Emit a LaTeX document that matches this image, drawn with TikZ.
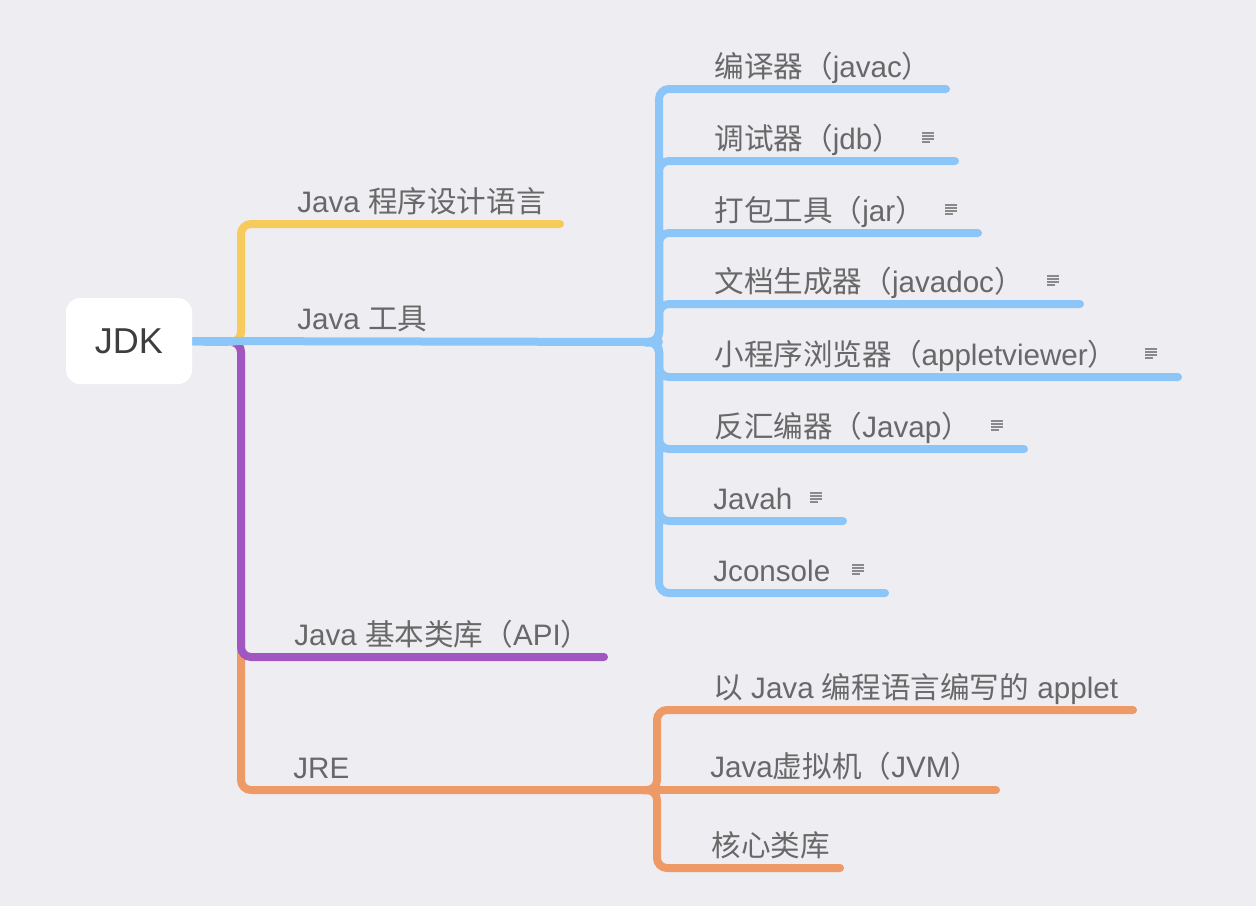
\documentclass[tikz,border=0pt]{standalone}
\usepackage{fontspec}
\setmainfont{Liberation Sans}
\newfontfamily\cjk{Noto Sans CJK SC}
\newcommand\zh[1]{{\cjk #1}}
\usetikzlibrary{positioning,backgrounds}

\definecolor{bgcol}{HTML}{EEEDF2}
\definecolor{textgray}{HTML}{686868}
\definecolor{rootgray}{HTML}{3E3E3E}
\definecolor{bluec}{HTML}{8CC6F9}
\definecolor{yellowc}{HTML}{F6CB5B}
\definecolor{purplec}{HTML}{A057C0}
\definecolor{orangec}{HTML}{EE9A67}
\definecolor{notec}{HTML}{8A8A8A}

\begin{document}
\begin{tikzpicture}[x=0.5pt, y=-0.5pt,
    every node/.style = {inner sep=0pt, text=textgray, font=\fontsize{14.8}{17}\selectfont},
    rootbox/.style = {fill=white, rounded corners=7pt, minimum width=63pt, minimum height=43pt,
      text=rootgray, font=\fontsize{18}{21}\selectfont},
    leaf/.style = {anchor=base west},
    branch/.style = {line width=4pt, line cap=round, rounded corners=5pt},
    noteicon/.pic = {\draw[notec, line width=0.7pt]
      (0,0) -- (12,0) (0,3) -- (12,3) (0,6) -- (12,6) (0,9) -- (8,9);}]
  \useasboundingbox (0,0) rectangle (1256,906);

  \node[rootbox] (jdk) at (129,341) {JDK};

  \node[leaf] (lang) at (297,212) {Java \zh{程序设计语言}};
  \node[leaf] (tools) at (297,329) {Java \zh{工具}};
  \node[leaf] (api) at (294,645) {Java \zh{基本类库（}API\zh{）}};
  \node[leaf] (jre) at (293,778) {JRE};

  \node[leaf] (javac) at (714,77) {\zh{编译器（}javac\zh{）}};
  \node[leaf] (jdb) at (714,149) {\zh{调试器（}jdb\zh{）}};
  \node[leaf] (jar) at (714,221) {\zh{打包工具（}jar\zh{）}};
  \node[leaf] (javadoc) at (714,292) {\zh{文档生成器（}javadoc\zh{）}};
  \node[leaf] (viewer) at (714,365) {\zh{小程序浏览器（}appletviewer\zh{）}};
  \node[leaf] (javap) at (714,437) {\zh{反汇编器（}Javap\zh{）}};
  \node[leaf] (javah) at (713,509) {Javah};
  \node[leaf] (jconsole) at (713,581) {Jconsole};

  \node[leaf] (applet) at (713,698) {\zh{以} Java \zh{编程语言编写的} applet};
  \node[leaf] (jvm) at (710,777) {Java\zh{虚拟机（}JVM\zh{）}};
  \node[leaf] (corelib) at (711,856) {\zh{核心类库}};

  \coordinate (trunk) at (241,342);
  \coordinate (lang-end) at (560,224);
  \coordinate (api-end) at (604,657);
  \coordinate (tools-in) at (645,342);
  \coordinate (toolsfork) at (659,342);
  \coordinate (jre-in) at (643,790);
  \coordinate (jrefork) at (657,790);

  \coordinate (javac-end) at (946,89);
  \coordinate (jdb-end) at (955,161);
  \coordinate (jar-end) at (978,233);
  \coordinate (javadoc-end) at (1080,304);
  \coordinate (viewer-end) at (1178,377);
  \coordinate (javap-end) at (1024,449);
  \coordinate (javah-end) at (843,521);
  \coordinate (jconsole-end) at (885,593);

  \coordinate (applet-end) at (1133,710);
  \coordinate (jvm-end) at (996,790);
  \coordinate (corelib-end) at (840,868);

  \begin{scope}[on background layer]
    \fill[bgcol] (0,0) rectangle (1256,906);
    \draw[branch, orangec] (jdk.east) -- (trunk) |- (jrefork);
    \draw[branch, orangec] (jre-in) -- (jrefork) |- (applet-end);
    \draw[branch, orangec] (jre-in) -- (jvm-end);
    \draw[branch, orangec] (jre-in) -- (jrefork) |- (corelib-end);
    \draw[branch, purplec] (jdk.east) -- (trunk) |- (api-end);
    \draw[branch, yellowc] (jdk.east) -- (trunk) |- (lang-end);
    \draw[branch, bluec] (jdk.east) -- (toolsfork);
    \draw[branch, bluec] (tools-in) -- (toolsfork) |- (javac-end);
    \draw[branch, bluec] (tools-in) -- (toolsfork) |- (jdb-end);
    \draw[branch, bluec] (tools-in) -- (toolsfork) |- (jar-end);
    \draw[branch, bluec] (tools-in) -- (toolsfork) |- (javadoc-end);
    \draw[branch, bluec] (tools-in) -- (toolsfork) |- (viewer-end);
    \draw[branch, bluec] (tools-in) -- (toolsfork) |- (javap-end);
    \draw[branch, bluec] (tools-in) -- (toolsfork) |- (javah-end);
    \draw[branch, bluec] (tools-in) -- (toolsfork) |- (jconsole-end);
  \end{scope}

  \path (jdb-end) ++(-33,-28) pic {noteicon};
  \path (jar-end) ++(-33,-28) pic {noteicon};
  \path (javadoc-end) ++(-33,-28) pic {noteicon};
  \path (viewer-end) ++(-33,-28) pic {noteicon};
  \path (javap-end) ++(-33,-28) pic {noteicon};
  \path (javah-end) ++(-33,-28) pic {noteicon};
  \path (jconsole-end) ++(-33,-28) pic {noteicon};
\end{tikzpicture}
\end{document}
